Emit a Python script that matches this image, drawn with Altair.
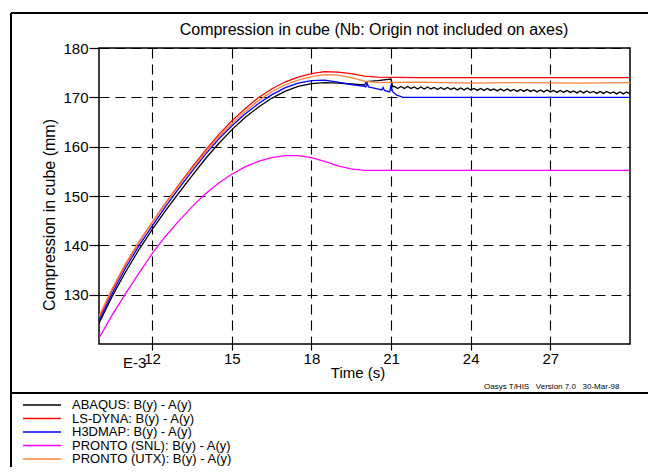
import altair as alt
import pandas as pd

# ---------------- data ----------------
series_names = ["ABAQUS: B(y) - A(y)", "LS-DYNA: B(y) - A(y)", "H3DMAP: B(y) - A(y)",
                "PRONTO (SNL): B(y) - A(y)", "PRONTO (UTX): B(y) - A(y)"]
series_colors = ["#000000", "#ff0000", "#0000ff", "#ff00ff", "#ff7f3f"]

t_rise = [10, 10.5, 11, 11.5, 12, 12.5, 13, 13.5, 14, 14.5, 15, 15.5, 16, 16.5, 17,
          17.5, 18, 18.5, 19, 19.5, 20]

# ABAQUS (black)
abaqus_rise = [124.2, 129.7, 134.6, 139.1, 143.2, 147.0, 150.6, 154.1, 157.5, 160.6, 163.4,
               165.9, 168.0, 169.8, 171.2, 172.2, 172.8, 173.0, 172.9, 172.7, 172.5]
abaqus_mid_t = [20.08, 20.5, 21.0, 21.06]
abaqus_mid_v = [173.2, 173.4, 173.7, 172.2]
abaqus_tail_t = [21.125, 21.25, 21.375, 21.5, 21.625, 21.75, 21.875, 22.0,
                 22.125, 22.25, 22.375, 22.5, 22.625, 22.75, 22.875, 23.0,
                 23.125, 23.25, 23.375, 23.5, 23.625, 23.75, 23.875, 24.0,
                 24.125, 24.25, 24.375, 24.5, 24.625, 24.75, 24.875, 25.0,
                 25.125, 25.25, 25.375, 25.5, 25.625, 25.75, 25.875, 26.0,
                 26.125, 26.25, 26.375, 26.5, 26.625, 26.75, 26.875, 27.0,
                 27.125, 27.25, 27.375, 27.5, 27.625, 27.75, 27.875, 28.0,
                 28.125, 28.25, 28.375, 28.5, 28.625, 28.75, 28.875, 29.0,
                 29.125, 29.25, 29.375, 29.5, 29.625, 29.75, 29.875, 30.0]
abaqus_tail_v = [172.2, 171.8, 172.2, 171.8, 172.2, 171.8, 172.1, 171.7,
                 172.1, 171.7, 172.1, 171.7, 172.0, 171.6, 172.0, 171.6,
                 172.0, 171.6, 171.9, 171.5, 171.9, 171.5, 171.9, 171.5,
                 171.8, 171.4, 171.8, 171.4, 171.8, 171.4, 171.7, 171.3,
                 171.7, 171.3, 171.7, 171.3, 171.6, 171.2, 171.6, 171.2,
                 171.6, 171.2, 171.5, 171.1, 171.5, 171.1, 171.5, 171.1,
                 171.4, 171.0, 171.4, 171.0, 171.4, 171.0, 171.3, 170.9,
                 171.3, 170.9, 171.3, 170.9, 171.2, 170.8, 171.2, 170.8,
                 171.2, 170.8, 171.1, 170.7, 171.1, 170.7, 171.1, 170.7]

# LS-DYNA (red)
lsdyna_rise = [125.2, 131.0, 136.1, 140.6, 144.6, 148.5, 152.2, 155.8, 159.2, 162.4, 165.2,
               167.7, 169.9, 171.7, 173.1, 174.1, 174.8, 175.2, 175.1, 174.8, 174.3]
lsdyna_tail_t = [20.5, 22.0, 30.0]
lsdyna_tail_v = [174.1, 174.0, 174.0]

# H3DMAP (blue)
h3dmap_rise = [124.6, 130.3, 135.4, 139.9, 143.9, 147.8, 151.5, 155.0, 158.4, 161.5, 164.2,
               166.6, 168.7, 170.5, 171.9, 172.9, 173.4, 173.5, 173.1, 172.6, 172.2]
h3dmap_tail_t = [20.05, 20.1, 20.15, 20.4, 20.65, 20.7, 20.75, 20.95, 21.0, 21.05, 21.2, 21.45, 30.0]
h3dmap_tail_v = [172.1, 172.9, 172.1, 171.8, 171.5, 172.0, 171.4, 171.1, 172.6, 171.2, 170.5, 170.0, 170.0]

# PRONTO (SNL) (magenta)
snl_rise = [121.2, 125.9, 130.2, 134.3, 138.3, 141.8, 144.9, 147.8, 150.4, 152.6, 154.4,
            155.9, 157.0, 157.8, 158.2, 158.2, 157.8, 157.0, 156.1, 155.5, 155.2]
snl_tail_t = [20.5, 30.0]
snl_tail_v = [155.2, 155.2]

# PRONTO (UTX) (orange)
utx_rise = [125.6, 131.3, 136.3, 140.7, 144.6, 148.4, 152.0, 155.5, 158.8, 161.9, 164.6,
            167.1, 169.3, 171.1, 172.5, 173.5, 174.2, 174.6, 174.5, 174.0, 173.3]
utx_tail_t = [20.5, 22.0, 24.0, 26.0, 28.0, 30.0]
utx_tail_v = [173.0, 173.1, 172.9, 173.0, 172.9, 173.0]

x_ticks = [12, 15, 18, 21, 24, 27]
y_ticks = [130, 140, 150, 160, 170, 180]

# ---------------- tables ----------------
curves = [
    (t_rise + abaqus_mid_t + abaqus_tail_t, abaqus_rise + abaqus_mid_v + abaqus_tail_v),
    (t_rise + lsdyna_tail_t, lsdyna_rise + lsdyna_tail_v),
    (t_rise + h3dmap_tail_t, h3dmap_rise + h3dmap_tail_v),
    (t_rise + snl_tail_t, snl_rise + snl_tail_v),
    (t_rise + utx_tail_t, utx_rise + utx_tail_v),
]
rows = []
for i, (ts, vs) in enumerate(curves):
    for t, v in zip(ts, vs):
        rows.append({"series": series_names[i], "t": t, "v": v, "k": i})
df = pd.DataFrame(rows)
legend_df = pd.DataFrame({"series": series_names, "idx": list(range(len(series_names)))})

FONT = "Liberation Sans"
W, H = 531, 296

color_scale = alt.Scale(domain=series_names, range=series_colors)

lines = alt.Chart(df).mark_line(strokeWidth=1.3, clip=True).encode(
    x=alt.X("t:Q", scale=alt.Scale(domain=[10, 30], nice=False, zero=False),
            axis=alt.Axis(values=x_ticks, title=None, grid=True, gridDash=[10, 6],
                          gridColor="black", gridWidth=1.1, gridOpacity=1,
                          domain=False, tickColor="black", tickSize=6, tickWidth=1.2,
                          labelFont=FONT, labelFontSize=15, labelColor="black",
                          labelPadding=1, labelFlush=False)),
    y=alt.Y("v:Q", scale=alt.Scale(domain=[120, 180], nice=False, zero=False),
            axis=alt.Axis(values=y_ticks, title=None, grid=True, gridDash=[10, 6],
                          gridColor="black", gridWidth=1.1, gridOpacity=1,
                          domain=False, tickColor="black", tickSize=10, tickWidth=1.2,
                          labelFont=FONT, labelFontSize=15, labelColor="black",
                          labelPadding=1, labelFlush=False)),
    color=alt.Color("series:N", scale=color_scale, legend=None),
    detail="k:N",
)

def txt(s, x, y, size, align="left", angle=0, baseline="alphabetic"):
    kw = dict(font=FONT, fontSize=size, align=align, baseline=baseline, color="black")
    if angle:
        kw["angle"] = angle
    return alt.Chart(pd.DataFrame({"s": [s]})).mark_text(**kw).encode(
        x=alt.value(x), y=alt.value(y), text="s:N")

title = txt("Compression in cube (Nb: Origin not included on axes)", 275, -13, 16, align="center")
ytitle = txt("Compression in cube (mm)", -49, 167, 16, align="center", angle=270, baseline="middle")
xtitle = txt("Time (s)", 259, 330, 15, align="center")
e3 = txt("E-3", 24, 320, 15)
oasys = txt("Oasys T/HIS\u00a0\u00a0\u00a0Version 7.0\u00a0\u00a0\u00a030-Mar-98", 385, 341, 8)

frame_df = pd.DataFrame({"a": [0]})
def rule(x, y, x2=None, y2=None, w=2):
    enc = dict(x=alt.value(x), y=alt.value(y))
    if x2 is not None:
        enc["x2"] = alt.value(x2)
    if y2 is not None:
        enc["y2"] = alt.value(y2)
    return alt.Chart(frame_df).mark_rule(color="black", strokeWidth=w).encode(**enc)

top_border = rule(-88, -35, x2=560)
left_border = rule(-88, -35, y2=430)
separator = rule(-88, 345, x2=560)

leg_y = alt.Y("idx:Q", scale=alt.Scale(domain=[0, 4], range=[357, 411]), axis=None)
leg_lines = alt.Chart(legend_df).mark_rule(strokeWidth=1.5).encode(
    x=alt.value(-76), x2=alt.value(-38), y=leg_y,
    color=alt.Color("series:N", scale=color_scale, legend=None))
leg_text = alt.Chart(legend_df).mark_text(font=FONT, fontSize=13, align="left",
                                          baseline="middle", color="black").encode(
    x=alt.value(-27), y=leg_y, text="series:N")

chart = alt.layer(
    lines, title, ytitle, xtitle, e3, oasys,
    top_border, left_border, separator, leg_lines, leg_text
).resolve_scale(y="independent").properties(
    width=W, height=H,
    autosize=alt.AutoSizeParams(type="none"),
    padding={"left": 91, "top": 40, "right": 18, "bottom": 123},
).configure_view(stroke="black", strokeWidth=1.5)

chart.save("out.html", embed_options={"renderer": "svg", "actions": False})
